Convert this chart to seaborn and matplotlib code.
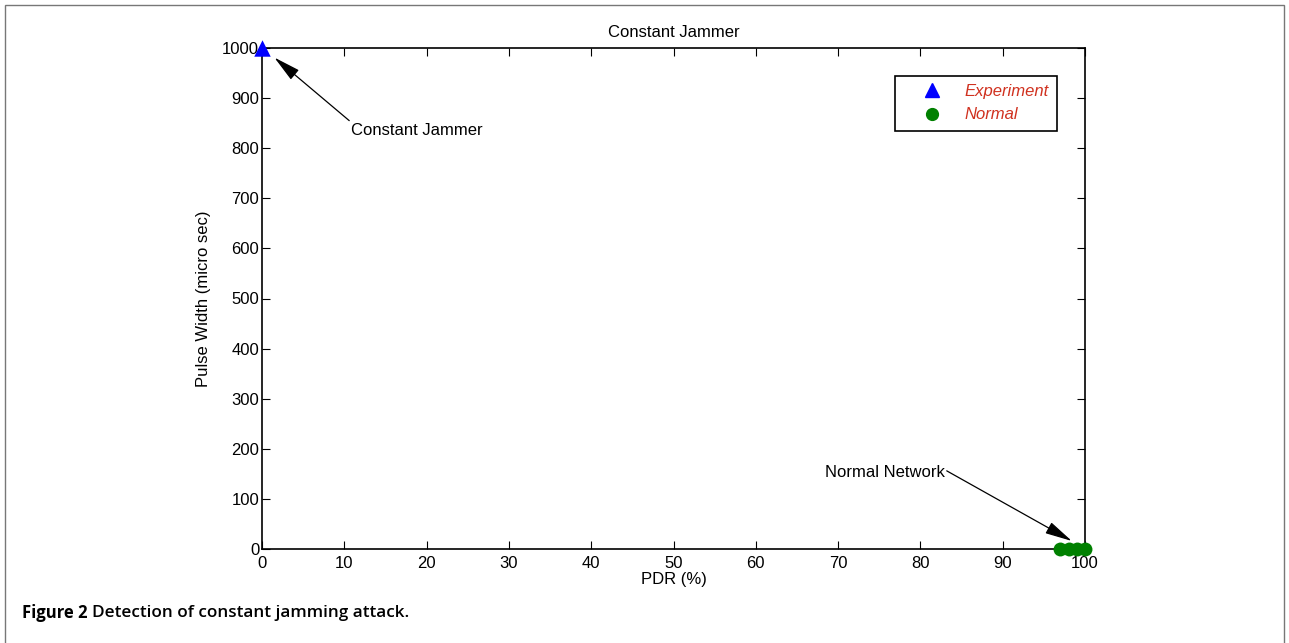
import numpy as np
import pandas as pd
import seaborn as sns
import matplotlib.pyplot as plt
from matplotlib.lines import Line2D
from matplotlib.patches import Rectangle

# PDR (%) vs pulse width (micro sec) for the constant jammer experiment
exp_pdr = [0]
exp_width = [1000]
normal_pdr = [97, 98, 99, 100]
normal_width = [0, 0, 0, 0]

x_ticks = list(range(0, 101, 10))
y_ticks = list(range(0, 1001, 100))

sns.set_theme(style="white")
plt.rcParams['font.family'] = ['Liberation Sans', 'DejaVu Sans']
plt.rcParams['text.color'] = 'black'
plt.rcParams['axes.labelcolor'] = 'black'

FS = 12

fig = plt.figure(figsize=(12.89, 6.43), dpi=100)
ax = fig.add_axes([262 / 1289, 1 - 549 / 643, (1085 - 262) / 1289, (549 - 48) / 643])

exp_df = pd.DataFrame({"pdr": exp_pdr, "width": exp_width})
norm_df = pd.DataFrame({"pdr": normal_pdr, "width": normal_width})

sns.scatterplot(data=norm_df, x="pdr", y="width", ax=ax, marker="o", s=100,
                color="#008000", edgecolor="#008000", linewidth=0, clip_on=False, zorder=5)
sns.scatterplot(data=exp_df, x="pdr", y="width", ax=ax, marker="^", s=140,
                color="#0000ff", edgecolor="#0000ff", linewidth=0, clip_on=False, zorder=5)

ax.set_xlim(0, 100)
ax.set_ylim(0, 1000)
ax.set_xticks(x_ticks)
ax.set_yticks(y_ticks)
ax.tick_params(axis="both", which="both", direction="in", length=6, width=0.8,
               top=True, right=True, bottom=True, left=True, labelsize=FS,
               colors="black")
ax.tick_params(axis="x", pad=5)
ax.tick_params(axis="y", pad=2)
for side in ax.spines.values():
    side.set_visible(True)
    side.set_color("black")
    side.set_linewidth(1.2)

ax.set_xlabel("PDR (%)", fontsize=FS, labelpad=1)
ax.set_ylabel("Pulse Width (micro sec)", fontsize=FS, labelpad=8)
ax.set_title("Constant Jammer", fontsize=FS, pad=8)

arrow_kw = dict(arrowstyle="-|>,head_length=1.4,head_width=0.32", color="black",
                lw=0.9, shrinkA=0, shrinkB=0, mutation_scale=12)

# Annotation for the jammer point
ax.annotate("", xy=(1.5, 981), xytext=(10.6, 855), arrowprops=arrow_kw)
ax.text(10.8, 836, "Constant Jammer", fontsize=FS, ha="left", va="center")

# Annotation for the normal network cluster
ax.annotate("", xy=(98.4, 16), xytext=(83.2, 156), arrowprops=arrow_kw)
ax.text(83.0, 152, "Normal Network", fontsize=FS, ha="right", va="center")

handles = [
    Line2D([], [], marker="^", linestyle="none", color="#0000ff", markersize=9.5),
    Line2D([], [], marker="o", linestyle="none", color="#008000", markersize=8.5),
]
leg = ax.legend(handles, ["Experiment", "Normal"], loc="upper left",
                bbox_to_anchor=(0.769, 0.9447), borderaxespad=0, fancybox=False,
                frameon=True, edgecolor="black", framealpha=1, handlelength=3.5,
                handletextpad=0.2, borderpad=0.5, labelspacing=0.5, fontsize=FS)
leg.get_frame().set_linewidth(1.2)
for t in leg.get_texts():
    t.set_color("#d0311f")
    t.set_fontstyle("italic")

# Figure frame and caption
frame = Rectangle((4.5 / 1289, -0.05), (1284 - 4.5) / 1289, 1.05 - 5 / 643,
                  transform=fig.transFigure, fill=False, edgecolor="#777777",
                  linewidth=1.0, clip_on=False)
fig.patches.append(frame)

cap1 = fig.text(22 / 1289, 1 - 613 / 643, "Figure 2", fontsize=12, fontweight="bold",
                family="Open Sans", ha="left", va="center")
ax.annotate("Detection of constant jamming attack.", xy=(1, 0.5), xycoords=cap1,
            xytext=(3.5, 0), textcoords="offset points", fontsize=12.3,
            fontweight="semibold", family="Open Sans", ha="left", va="center",
            annotation_clip=False)

fig.savefig("out.png", dpi=100, facecolor="white")
